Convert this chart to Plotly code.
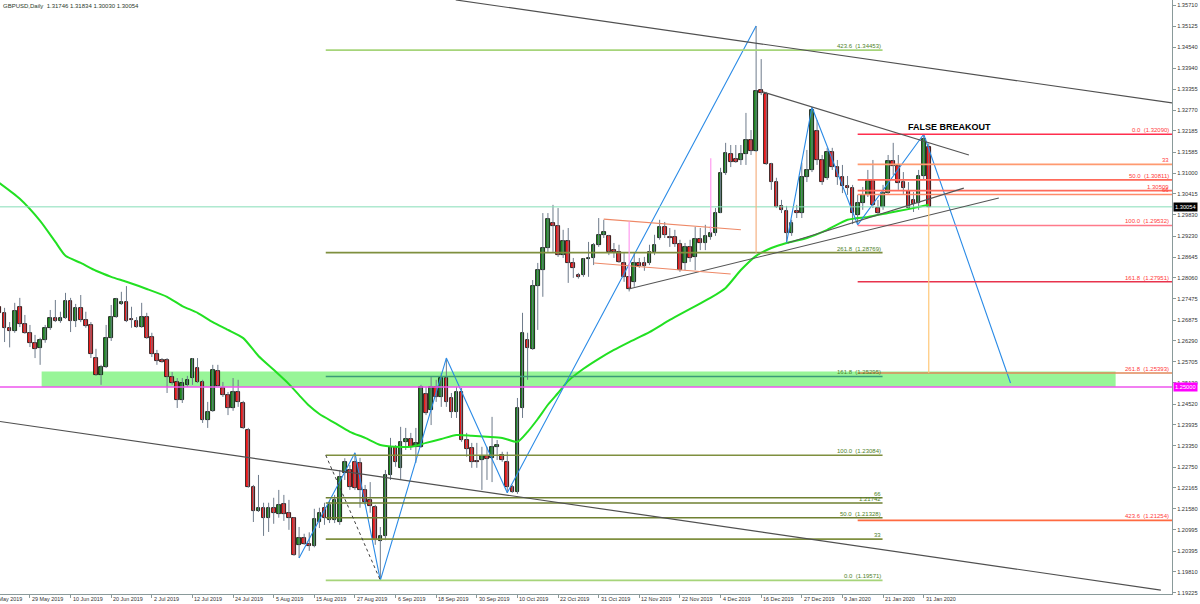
import plotly.graph_objects as go

# ---------------- data ----------------
bar_index = list(range(1, 185))  # consecutive bars, 20 May 2019 = 0 ... 3 Feb 2020 = 184

open_ = [1.2725,1.2708,1.2666,1.2657,1.2725,1.2677,1.2652,1.2624,1.2609,1.2632,
         1.2666,1.2694,1.2685,1.2694,1.2741,1.2685,1.2722,1.2688,1.2674,1.2581,
         1.2534,1.2556,1.2638,1.2696,1.2733,1.2739,1.2691,1.2685,1.2668,1.2696,
         1.2640,1.2593,1.2576,1.2576,1.2528,1.2514,1.2464,1.2506,1.2525,1.2553,
         1.2514,1.2407,1.2433,1.2545,1.2497,1.2478,1.2441,1.2486,1.2455,1.2379,
         1.2219,1.2152,1.2161,1.2133,1.2161,1.2144,1.2172,1.2147,1.2133,1.2057,
         1.2076,1.2059,1.2055,1.2120,1.2161,1.2127,1.2127,1.2121,1.2259,1.2267,
         1.2290,1.2287,1.2211,1.2183,1.2163,1.2068,1.2082,1.2253,1.2332,1.2273,
         1.2346,1.2354,1.2332,1.2332,1.2480,1.2436,1.2500,1.2472,1.2525,1.2469,
         1.2430,1.2486,1.2351,1.2329,1.2293,1.2295,1.2306,1.2301,1.2332,1.2309,
         1.2290,1.2219,1.2205,1.2441,1.2632,1.2607,1.2783,1.2828,1.2890,1.2960,
         1.2952,1.2870,1.2910,1.2848,1.2814,1.2814,1.2859,1.2862,1.2899,1.2927,
         1.2924,1.2884,1.2879,1.2848,1.2809,1.2795,1.2849,1.2849,1.2848,1.2879,
         1.2918,1.2949,1.2922,1.2922,1.2901,1.2848,1.2893,1.2865,1.2915,1.2904,
         1.2922,1.2932,1.2988,1.3101,1.3154,1.3139,1.3137,1.3154,1.3193,1.3162,
         1.3333,1.3322,1.3126,1.3076,1.3008,1.2995,1.2932,1.2994,1.2987,1.3089,
         1.3109,1.3218,1.3137,1.3087,1.3159,1.3117,1.3089,1.3064,1.3058,1.2983,
         1.3016,1.3039,1.3078,1.3002,1.3005,1.3044,1.3134,1.3120,1.3075,1.3050,
         1.3025,1.3016,1.3092,1.31746]
high = [1.2814,1.2722,1.2682,1.2736,1.2750,1.2702,1.2674,1.2646,1.2638,1.2674,
        1.2716,1.2744,1.2711,1.2764,1.2750,1.2733,1.2758,1.2711,1.2682,1.2607,
        1.2562,1.2674,1.2730,1.2750,1.2767,1.2783,1.2725,1.2696,1.2736,1.2708,
        1.2652,1.2604,1.2581,1.2581,1.2542,1.2525,1.2525,1.2531,1.2581,1.2581,
        1.2520,1.2458,1.2562,1.2562,1.2514,1.2486,1.2525,1.2520,1.2461,1.2385,
        1.2225,1.2253,1.2175,1.2175,1.2189,1.2211,1.2197,1.2183,1.2135,1.2107,
        1.2088,1.2092,1.2158,1.2161,1.2175,1.2183,1.2197,1.2267,1.2300,1.2281,
        1.2315,1.2301,1.2225,1.2233,1.2169,1.2107,1.2267,1.2357,1.2337,1.2388,
        1.2385,1.2371,1.2385,1.2506,1.2500,1.2528,1.2520,1.2539,1.2581,1.2483,
        1.2500,1.2497,1.2371,1.2343,1.2343,1.2332,1.2332,1.2416,1.2351,1.2318,
        1.2318,1.2225,1.2469,1.2708,1.2652,1.2800,1.2848,1.2988,1.2988,1.3011,
        1.3002,1.2941,1.2946,1.2862,1.2820,1.2862,1.2907,1.2904,1.2974,1.2969,
        1.2927,1.2904,1.2899,1.2876,1.2837,1.2876,1.2862,1.2865,1.2899,1.2927,
        1.2969,1.2963,1.2946,1.2941,1.2913,1.2904,1.2913,1.2949,1.2946,1.2955,
        1.2952,1.3002,1.3115,1.3185,1.3179,1.3179,1.3179,1.3269,1.3221,1.3513,
        1.3420,1.3328,1.3129,1.3087,1.3025,1.3008,1.2969,1.3011,1.3129,1.3165,
        1.3285,1.3249,1.3151,1.3171,1.3171,1.3137,1.3123,1.3092,1.3067,1.3039,
        1.3061,1.3109,1.3137,1.3025,1.3067,1.3151,1.3185,1.3151,1.3103,1.3075,
        1.3047,1.3109,1.3209,1.31834]
low = [1.2688,1.2626,1.2611,1.2652,1.2668,1.2649,1.2612,1.2581,1.2562,1.2624,
       1.2660,1.2682,1.2680,1.2691,1.2654,1.2668,1.2682,1.2666,1.2581,1.2531,
       1.2506,1.2553,1.2629,1.2694,1.2730,1.2682,1.2666,1.2666,1.2666,1.2635,
       1.2584,1.2562,1.2568,1.2483,1.2506,1.2441,1.2455,1.2500,1.2506,1.2511,
       1.2399,1.2385,1.2430,1.2503,1.2472,1.2421,1.2433,1.2444,1.2382,1.2217,
       1.2121,1.2149,1.2082,1.2093,1.2116,1.2133,1.2124,1.2099,1.2026,1.2020,
       1.2057,1.2040,1.2050,1.2104,1.2113,1.2118,1.2118,1.2113,1.2239,1.2211,
       1.2211,1.2161,1.2169,1.2147,1.2057,1.1957,1.2070,1.2239,1.2276,1.2239,
       1.2323,1.2323,1.2287,1.2329,1.2421,1.2393,1.2458,1.2444,1.2444,1.2413,
       1.2413,1.2346,1.2304,1.2273,1.2273,1.2211,1.2239,1.2233,1.2295,1.2290,
       1.2203,1.2203,1.2200,1.2413,1.2520,1.2604,1.2660,1.2753,1.2879,1.2879,
       1.2865,1.2862,1.2792,1.2806,1.2804,1.2809,1.2809,1.2842,1.2893,1.2918,
       1.2870,1.2862,1.2848,1.2795,1.2768,1.2781,1.2834,1.2826,1.2842,1.2870,
       1.2913,1.2918,1.2893,1.2893,1.2823,1.2828,1.2851,1.2828,1.2884,1.2884,
       1.2913,1.2924,1.2988,1.3095,1.3117,1.3129,1.3123,1.3123,1.3151,1.3159,
       1.3319,1.3123,1.3053,1.3002,1.2988,1.2905,1.2924,1.2974,1.2974,1.3075,
       1.3103,1.3123,1.3067,1.3081,1.3109,1.3067,1.3044,1.3039,1.2957,1.2955,
       1.2997,1.3033,1.3002,1.2983,1.2997,1.3039,1.3095,1.3053,1.3039,1.2997,
       1.2991,1.2997,1.3081,1.30030]
close = [1.2708,1.2666,1.2657,1.2713,1.2677,1.2652,1.2624,1.2607,1.2632,1.2666,
         1.2694,1.2685,1.2694,1.2741,1.2685,1.2722,1.2688,1.2671,1.2593,1.2534,
         1.2556,1.2638,1.2696,1.2747,1.2739,1.2685,1.2688,1.2668,1.2696,1.2638,
         1.2593,1.2573,1.2570,1.2528,1.2511,1.2464,1.2511,1.2520,1.2579,1.2514,
         1.2407,1.2430,1.2548,1.2503,1.2478,1.2441,1.2486,1.2458,1.2385,1.2219,
         1.2152,1.2161,1.2133,1.2161,1.2147,1.2169,1.2144,1.2133,1.2029,1.2076,
         1.2059,1.2055,1.2130,1.2147,1.2133,1.2169,1.2183,1.2248,1.2290,1.2219,
         1.2216,1.2211,1.2177,1.2166,1.2071,1.2082,1.2253,1.2332,1.2290,1.2346,
         1.2354,1.2332,1.2343,1.2500,1.2427,1.2500,1.2472,1.2525,1.2458,1.2430,
         1.2486,1.2351,1.2326,1.2290,1.2290,1.2306,1.2298,1.2332,1.2337,1.2295,
         1.2219,1.2205,1.2441,1.2652,1.2609,1.2783,1.2828,1.2890,1.2971,1.2952,
         1.2870,1.2910,1.2848,1.2834,1.2809,1.2859,1.2862,1.2899,1.2927,1.2935,
         1.2879,1.2879,1.2851,1.2809,1.2775,1.2848,1.2840,1.2840,1.2879,1.2899,
         1.2949,1.2927,1.2918,1.2901,1.2828,1.2893,1.2862,1.2915,1.2904,1.2924,
         1.2932,1.2988,1.3101,1.3157,1.3131,1.3132,1.3154,1.3193,1.3162,1.3331,
         1.3326,1.3126,1.3075,1.3005,1.2997,1.2932,1.2960,1.2987,1.3089,1.3109,
         1.3277,1.3137,1.3075,1.3159,1.3117,1.3089,1.3064,1.3058,1.2988,1.3016,
         1.3039,1.3078,1.3011,1.2989,1.3044,1.3134,1.3120,1.3072,1.3058,1.3002,
         1.3014,1.3092,1.3196,1.30054]

# moving average line as drawn in the picture
ma_index = [1,5,9,12,14,17,20,23,26,30,34,37,40,43,46,49,52,55,58,60,62,64,67,70,73,
            76,79,82,85,88,91,94,97,100,103,105,107,109,111,113,116,119,122,125,129,
            133,137,141,144,147,150,153,156,160,164,168,172,176,180,184]
ma_value = [1.3072,1.3028,1.2966,1.2907,1.2868,1.2848,1.2826,1.2809,1.2795,1.2775,
            1.2753,1.2727,1.2708,1.2682,1.2660,1.2637,1.2587,1.2548,1.2508,1.2477,
            1.2447,1.2424,1.2399,1.2374,1.2357,1.2337,1.2332,1.2332,1.2343,1.2354,
            1.2365,1.2363,1.2360,1.2357,1.2346,1.2374,1.2410,1.2450,1.2483,1.2517,
            1.2551,1.2579,1.2604,1.2626,1.2654,1.2688,1.2719,1.2750,1.2778,1.2828,
            1.2868,1.2890,1.2904,1.2918,1.2941,1.2969,1.2977,1.2988,1.2999,1.3011]

y_tick_values = [1.35710,1.35125,1.34540,1.33940,1.33355,1.32770,1.32185,1.31585,
                 1.31000,1.30415,1.29830,1.29230,1.28645,1.28060,1.27475,1.26875,
                 1.26290,1.25705,1.25120,1.24520,1.23935,1.23350,1.22750,1.22165,
                 1.21580,1.20995,1.20395,1.19810,1.19225]
x_tick_index = [-1,7,15,23,31,39,47,55,63,71,79,87,95,103,111,119,127,135,143,151,159,167,175,183]
x_tick_text = ["17 May 2019","29 May 2019","10 Jun 2019","20 Jun 2019","2 Jul 2019","12 Jul 2019",
               "24 Jul 2019","5 Aug 2019","15 Aug 2019","27 Aug 2019","6 Sep 2019",
               "18 Sep 2019","30 Sep 2019","10 Oct 2019","22 Oct 2019","31 Oct 2019",
               "12 Nov 2019","22 Nov 2019","4 Dec 2019","16 Dec 2019","27 Dec 2019",
               "9 Jan 2020","21 Jan 2020","31 Jan 2020"]

title_text = "GBPUSD,Daily  1.31746 1.31834 1.30030 1.30054"
last_price = 1.30054
round_level = 1.25000

# drawn objects (bar index, price)
zigzag1_index = [60, 71, 76, 89, 101, 150]
zigzag1_price = [1.2020, 1.2315, 1.1957, 1.2581, 1.2203, 1.3513]
zigzag2_index = [156, 161, 170, 183, 200.1]
zigzag2_price = [1.2905, 1.3285, 1.2955, 1.3209, 1.2511]

fib1_anchor_index = [65.25, 76]
fib1_anchor_price = [1.23084, 1.19571]
fib1_end_index = 174.9
fib1_prices = [1.19571, 1.20730, 1.21328, 1.21742, 1.21890, 1.23084, 1.25295, 1.28769, 1.34453]
fib1_texts = ["0.0  (1.19571)", "33", "50.0  (1.21328)", "1.21742", "66",
              "100.0  (1.23084)", "161.8  (1.25295)", "261.8  (1.28769)", "423.6  (1.34453)"]
fib1_colors = ["#A6D47A", "#7F8F3F", "#6F8032", "#6F8032", "#6F8032",
               "#7F8F3F", "#3C9A78", "#7F8F3F", "#A6D47A"]

fib2_start_index = 170
fib2_end_index = 231.9
fib2_prices = [1.32090, 1.31246, 1.30811, 1.30509, 1.30402, 1.29532, 1.27951, 1.25393, 1.21254]
fib2_texts = ["0.0  (1.32090)", "33", "50.0  (1.30811)", "1.30509", "66",
              "100.0  (1.29532)", "161.8  (1.27951)", "261.8  (1.25393)", "423.6  (1.21254)"]
fib2_colors = ["#FF2E4E", "#FF9A70", "#FF6A5A", "#FF6A5A", "#FF8A6A",
               "#FF7A8A", "#E8334D", "#E0885A", "#FF6A40"]

channel_upper = ([90.85, 231.9], [1.3586, 1.3297])
channel_lower = ([1.1, 229.7], [1.2403, 1.1930])
support_long = ([124.9, 197.8], [1.2775, 1.3030])
support_short = ([156.2, 190.9], [1.2904, 1.3058])
resistance = ([151.3, 191.9], [1.3328, 1.3151])
flag_upper = ([120.0, 147.0], [1.2971, 1.2941])
flag_lower = ([118.1, 145.0], [1.2848, 1.2817])
zone_index = [9.3, 220.8]
zone_price = [1.2500, 1.2543]
orange_verticals = [(150, 1.3159, 1.28769, "#F4B183"), (184, 1.3003, 1.25393, "#FFC878")]
pink_verticals = [(125, 1.2964, 1.2781), (141.07, 1.3142, 1.2931)]

X_RANGE = [1.1, 231.9]
Y_RANGE = [1.19189, 1.35859]
FONT = "Liberation Sans"

# ---------------- figure ----------------
fig = go.Figure()

# wicks
wx, wy = [], []
for i, h, l in zip(bar_index, high, low):
    wx += [i, i, None]
    wy += [l, h, None]
fig.add_trace(go.Scatter(x=wx, y=wy, mode="lines", line=dict(color="#6E7B8B", width=1),
                         hoverinfo="skip", showlegend=False))

# bodies
base = [min(o, c) for o, c in zip(open_, close)]
height = [max(abs(c - o), 0.00004) for o, c in zip(open_, close)]
colors = ["#1F8F1F" if c >= o else "#FF1A1A" for o, c in zip(open_, close)]
fig.add_trace(go.Bar(x=bar_index, y=height, base=base, width=0.72,
                     marker=dict(color=colors, line=dict(color="#000000", width=0.8)),
                     showlegend=False, hoverinfo="skip"))

# moving average
fig.add_trace(go.Scatter(x=ma_index, y=ma_value, mode="lines",
                         line=dict(color="#22E022", width=2, shape="spline", smoothing=0.6),
                         showlegend=False, hoverinfo="skip"))

# zigzags
fig.add_trace(go.Scatter(x=zigzag1_index, y=zigzag1_price, mode="lines",
                         line=dict(color="#2B8BE6", width=1.1), showlegend=False, hoverinfo="skip"))
fig.add_trace(go.Scatter(x=zigzag2_index, y=zigzag2_price, mode="lines",
                         line=dict(color="#2B8BE6", width=1.1), showlegend=False, hoverinfo="skip"))


def seg(xs, ys, color, width=1.2, dash="solid", layer="above"):
    fig.add_shape(type="line", xref="x", yref="y", x0=xs[0], x1=xs[1], y0=ys[0], y1=ys[1],
                  line=dict(color=color, width=width, dash=dash), layer=layer)


# zone and horizontal levels
fig.add_shape(type="rect", xref="x", yref="y", x0=zone_index[0], x1=zone_index[1],
              y0=zone_price[0], y1=zone_price[1], fillcolor="#98F598", line=dict(width=0),
              layer="below")
fig.add_shape(type="line", xref="paper", yref="y", x0=0, x1=1, y0=round_level, y1=round_level,
              line=dict(color="#EE55EE", width=1.5), layer="above")
fig.add_shape(type="line", xref="paper", yref="y", x0=0, x1=1, y0=last_price, y1=last_price,
              line=dict(color="#86DDB8", width=1), layer="above")

LABEL_SIZE = 6

# fib 1
for p, t, c in zip(fib1_prices, fib1_texts, fib1_colors):
    seg([fib1_anchor_index[0], fib1_end_index], [p, p], c, width=1.6)
    fig.add_annotation(x=fib1_end_index, y=p, xref="x", yref="y", text=t, showarrow=False,
                       xanchor="right", yanchor="bottom", yshift=-1,
                       font=dict(family=FONT, size=LABEL_SIZE, color="#4E7F2A"))
seg(fib1_anchor_index, fib1_anchor_price, "#404040", width=1, dash="dot")

# fib 2
for p, t, c in zip(fib2_prices, fib2_texts, fib2_colors):
    seg([fib2_start_index, fib2_end_index], [p, p], c, width=1.6)
    fig.add_annotation(x=fib2_end_index - 0.15, y=p, xref="x", yref="y", text=t, showarrow=False,
                       xanchor="right", yanchor="bottom", yshift=-1,
                       font=dict(family=FONT, size=LABEL_SIZE, color="#FF3A3A"))

# trend lines
seg(*channel_upper, "#505050", width=1.2)
seg(*channel_lower, "#505050", width=1.2)
seg(*support_long, "#555555", width=1.1)
seg(*support_short, "#555555", width=1.1)
seg(*resistance, "#555555", width=1.1)
seg(*flag_upper, "#EE8866", width=1.1)
seg(*flag_lower, "#EE8866", width=1.1)
for xi, y0, y1, c in orange_verticals:
    seg([xi, xi], [y0, y1], c, width=1.2)
for xi, y0, y1 in pink_verticals:
    seg([xi, xi], [y0, y1], "#FF9CF0", width=1.2)

# x-axis date labels: text starts at the tick, as in the terminal
for xi, t in zip(x_tick_index, x_tick_text):
    fig.add_annotation(xref="paper", yref="paper",
                       x=(xi - X_RANGE[0]) / (X_RANGE[1] - X_RANGE[0]), y=0,
                       xshift=1, yshift=-1, text=t, showarrow=False,
                       xanchor="left", yanchor="top", borderpad=0,
                       font=dict(family=FONT, size=5.4, color="#333333"))

# texts
fig.add_annotation(xref="paper", yref="paper", x=0, y=1, xshift=1, yshift=-1, text=title_text,
                   showarrow=False, xanchor="left", yanchor="top",
                   font=dict(family=FONT, size=6, color="#2A3A2A"))
fig.add_annotation(xref="x", yref="y", x=188, y=1.3229, text="<b>FALSE BREAKOUT</b>",
                   showarrow=False, font=dict(family=FONT, size=9, color="#000000"))
fig.add_annotation(xref="paper", yref="y", x=1, y=last_price, xshift=1, text=f"{last_price:.5f}",
                   showarrow=False, xanchor="left", bgcolor="#000000", borderpad=1,
                   font=dict(family=FONT, size=5.7, color="#FFFFFF"))
fig.add_annotation(xref="paper", yref="y", x=1, y=round_level, xshift=1, text=f"{round_level:.5f}",
                   showarrow=False, xanchor="left", bgcolor="#FF00FF", borderpad=1,
                   font=dict(family=FONT, size=5.7, color="#FFFFFF"))

axis_color = "#8A9A9A"
fig.update_layout(
    width=1200, height=604,
    margin=dict(l=0, r=28, t=0, b=10),
    paper_bgcolor="white", plot_bgcolor="white",
    showlegend=False, bargap=0,
    xaxis=dict(range=X_RANGE, showgrid=False, zeroline=False, showline=True,
               linecolor=axis_color, linewidth=1, ticks="outside", ticklen=3,
               tickcolor=axis_color, tickvals=x_tick_index, showticklabels=False,
               automargin=False),
    yaxis=dict(range=Y_RANGE, side="right", showgrid=False, zeroline=False, showline=True,
               linecolor=axis_color, linewidth=1, ticks="outside", ticklen=3,
               tickcolor=axis_color, tickvals=y_tick_values,
               ticktext=[f"{v:.5f}" for v in y_tick_values], automargin=False,
               tickfont=dict(family=FONT, size=5.7, color="#333333")),
)

fig.write_html("out.html", config={"displayModeBar": False},
               post_script="document.body.style.margin='0px';document.body.style.overflow='hidden';")
